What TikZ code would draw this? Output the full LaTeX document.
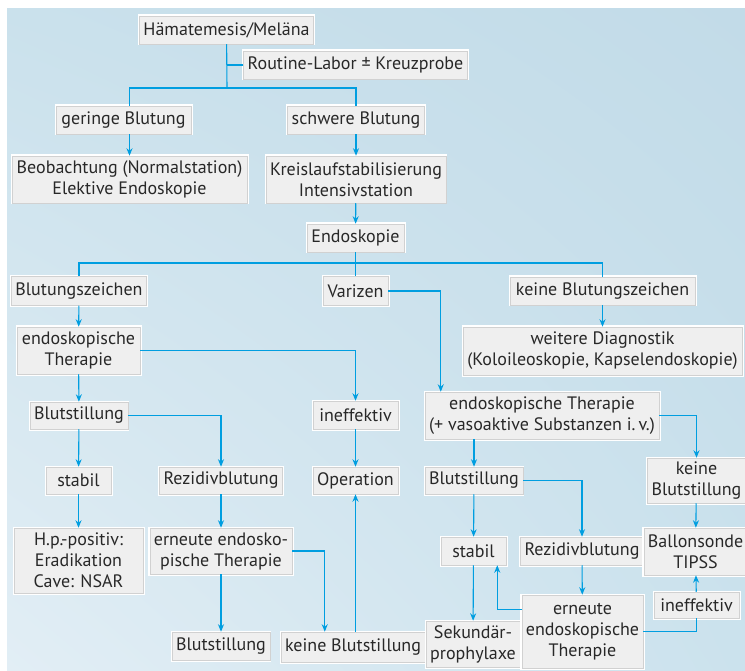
\documentclass[tikz,border=0pt]{standalone}
\usepackage{fontspec}
\setmainfont{PT Sans}
\usetikzlibrary{arrows.meta,shadings}
\definecolor{flowcyan}{RGB}{0,158,224}
\definecolor{boxgray}{RGB}{239,239,239}
\definecolor{inkgray}{RGB}{40,40,40}
\definecolor{bgUL}{RGB}{202,225,236}
\definecolor{bgUR}{RGB}{194,219,232}
\definecolor{bgLL}{RGB}{226,238,245}
\definecolor{bgLR}{RGB}{203,226,237}

\begin{document}
\begin{tikzpicture}[x=1pt,y=-1pt,
    box/.style={draw=black!18, line width=0.5pt, fill=boxgray,
                preaction={draw=white, line width=3pt}, align=center,
                inner xsep=4pt, inner ysep=2pt, text=inkgray,
                font=\fontsize{18}{21}\selectfont},
    ln/.style={flowcyan, line width=1.1pt},
    arr/.style={ln, -{Stealth[length=7.5pt,width=6pt]}}
  ]
  \useasboundingbox (0,0) rectangle (745,671);
  \shade[upper left=bgUL, upper right=bgUR, lower left=bgLL, lower right=bgLR]
    (7,9) rectangle (745,671);

  % top part
  \node[box, minimum width=173pt, minimum height=28pt] (ham) at (226.5,30) {Hämatemesis/Meläna};
  \node[box, minimum width=223pt, minimum height=28pt] (labor) at (355.5,65) {Routine-Labor ± Kreuzprobe};
  \node[box, minimum width=135pt, minimum height=28pt] (gering) at (123.5,120) {geringe Blutung};
  \node[box, minimum width=134pt, minimum height=28pt] (schwer) at (356,120) {schwere Blutung};
  \node[box, minimum width=235pt, minimum height=47pt] (beob) at (129.5,179.5) {Beobachtung (Normalstation)\\Elektive Endoskopie};
  \node[box, minimum width=178pt, minimum height=47pt] (kreis) at (356,179.5) {Kreislaufstabilisierung\\Intensivstation};
  \node[box, minimum width=97pt, minimum height=28pt] (endo) at (355.5,238) {Endoskopie};

  % three findings
  \node[box, minimum width=134pt, minimum height=29pt] (bzeichen) at (79,291) {Blutungszeichen};
  \node[box, minimum width=65pt, minimum height=29pt] (varizen) at (355.5,291) {Varizen};
  \node[box, minimum width=185pt, minimum height=28pt] (keinebz) at (602.5,291) {keine Blutungszeichen};
  \node[box, minimum width=279pt, minimum height=48pt] (weitere) at (602.5,351) {weitere Diagnostik\\(Koloileoskopie, Kapselendoskopie)};

  % left branch
  \node[box, minimum width=123pt, minimum height=47pt] (therB) at (78.5,350.5) {endoskopische\\Therapie};
  \node[box, minimum width=96pt, minimum height=27pt] (stillB) at (79,415.5) {Blutstillung};
  \node[box, minimum width=85pt, minimum height=28pt] (ineffB) at (355.5,415) {ineffektiv};
  \node[box, minimum width=65pt, minimum height=27pt] (stabilB) at (78.5,480.5) {stabil};
  \node[box, minimum width=120pt, minimum height=27pt] (rezB) at (221,480.5) {Rezidivblutung};
  \node[box, minimum width=85pt, minimum height=27pt] (op) at (355.5,480.5) {Operation};
  \node[box, minimum width=129pt, minimum height=65pt] (hp) at (78.5,560.5) {H.p.-positiv:\\Eradikation\\Cave: NSAR};
  \node[box, minimum width=140pt, minimum height=46pt] (erneutB) at (221,551) {erneute endosko-\\pische Therapie};
  \node[box, minimum width=96pt, minimum height=28pt] (stillB2) at (221,646) {Blutstillung};
  \node[box, minimum width=140pt, minimum height=30pt] (keinestillB) at (353,647) {keine Blutstillung};

  % varices branch
  \node[box, minimum width=234pt, minimum height=47pt] (therV) at (542,415.5) {endoskopische Therapie\\(+ vasoaktive Substanzen i.\,v.)};
  \node[box, minimum width=96pt, minimum height=27pt] (stillV) at (474,480.5) {Blutstillung};
  \node[box, minimum width=95pt, minimum height=45pt] (keinestillV) at (696.5,480.5) {keine\\Blutstillung};
  \node[box, minimum width=65pt, minimum height=28pt] (stabilV) at (473.5,551) {stabil};
  \node[box, minimum width=120pt, minimum height=28pt] (rezV) at (582,551) {Rezidivblutung};
  \node[box, minimum width=99pt, minimum height=47pt] (ballon) at (695.5,551.5) {Ballonsonde\\TIPSS};
  \node[box, minimum width=85pt, minimum height=26pt] (ineffV) at (696.5,605) {ineffektiv};
  \node[box, minimum width=90pt, minimum height=46pt] (sek) at (473,644) {Sekundär-\\prophylaxe};
  \node[box, minimum width=121pt, minimum height=73pt] (erneutV) at (582.5,631.5) {erneute\\endoskopische\\Therapie};

  \coordinate (split) at (227,88);
  \coordinate (split2) at (355.5,263);

  % connectors, top
  \draw[ln] (ham) -- (split);
  \draw[ln] (labor.west) -- (labor.west -| split);
  \draw[ln] (split) -| (gering.north -| beob);
  \draw[ln] (split) -| (schwer.north);
  \draw[arr] (gering.south -| beob) -- (beob.north);
  \draw[arr] (schwer) -- (kreis);
  \draw[arr] (kreis) -- (endo);
  \draw[ln] (endo) -- (varizen);
  \draw[ln] (split2) -| (bzeichen.north);
  \draw[ln] (split2) -| (keinebz.north);
  \draw[arr] (keinebz) -- (weitere);

  % left branch
  \draw[arr] (bzeichen) -- (therB);
  \draw[arr] (therB.east) -| (ineffB.north);
  \draw[arr] (therB) -- (stillB);
  \draw[arr] (stillB.east) -| (rezB.north);
  \draw[arr] (stillB) -- (stabilB);
  \draw[arr] (stabilB) -- (hp);
  \draw[arr] (ineffB) -- (op);
  \draw[arr] (rezB) -- (erneutB);
  \draw[arr] (erneutB) -- (stillB2);
  \draw[arr] (erneutB.east) -| ([xshift=44pt]keinestillB.north west);
  \draw[arr] (keinestillB.north -| op) -- (op.south);

  % varices branch
  \draw[arr] (varizen.east) -| ([xshift=16pt]therV.north west);
  \draw[arr] (therV.south -| stillV) -- (stillV);
  \draw[arr] (therV.east) -| (keinestillV.north);
  \draw[arr] (stillV.east) -| (rezV.north);
  \draw[arr] (stillV) -- (stabilV);
  \draw[arr] (stabilV) -- (sek);
  \draw[arr] (rezV) -- (erneutV);
  \draw[arr] ([yshift=22pt]erneutV.west) -| ([xshift=-9pt]stabilV.south east);
  \draw[ln] (erneutV.east) -| (ineffV.south);
  \draw[arr] (ineffV) -- (ballon);
  \draw[arr] (keinestillV) -- (ballon);
\end{tikzpicture}
\end{document}
